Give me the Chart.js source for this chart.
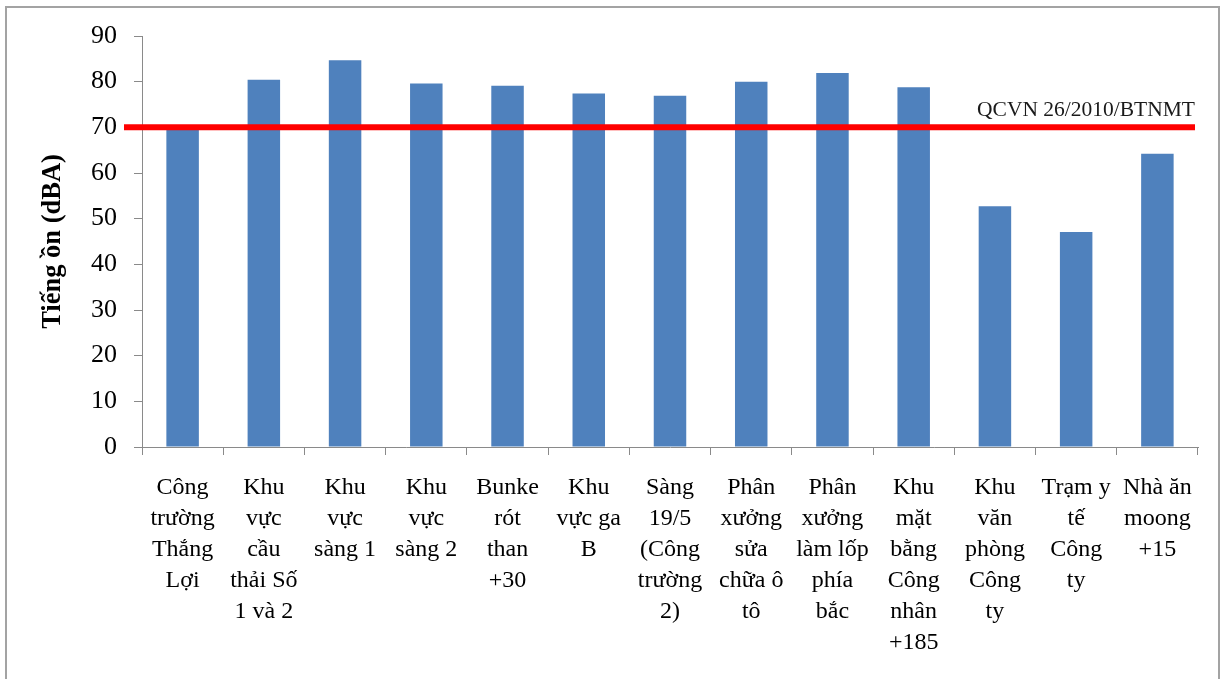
<!DOCTYPE html>
<html>
<head>
<meta charset="utf-8">
<title>Tiếng ồn (dBA)</title>
<script src="https://cdn.jsdelivr.net/npm/chart.js@4/dist/chart.umd.min.js"></script>
<style>
  html, body { margin: 0; padding: 0; background: #ffffff; overflow: hidden; }
  #wrap { position: relative; width: 1227px; height: 679px; }
  #frame {
    position: absolute; left: 5px; top: 6px; width: 1215px; height: 700px;
    border: 2px solid #a3a3a3; box-sizing: border-box; pointer-events: none;
  }
  canvas { position: absolute; left: 0; top: 0; }
</style>
</head>
<body>
<div id="wrap">
  <canvas id="c" width="1227" height="679"></canvas>
  <div id="frame"></div>
</div>
<script>
// Measurement sites (each label split into the lines shown under the axis)
const categories = [
  ["Công", "trường", "Thắng", "Lợi"],
  ["Khu", "vực", "cầu", "thải Số", "1 và 2"],
  ["Khu", "vực", "sàng 1"],
  ["Khu", "vực", "sàng 2"],
  ["Bunke", "rót", "than", "+30"],
  ["Khu", "vực ga", "B"],
  ["Sàng", "19/5", "(Công", "trường", "2)"],
  ["Phân", "xưởng", "sửa", "chữa ô", "tô"],
  ["Phân", "xưởng", "làm lốp", "phía", "bắc"],
  ["Khu", "mặt", "bằng", "Công", "nhân", "+185"],
  ["Khu", "văn", "phòng", "Công", "ty"],
  ["Trạm y", "tế", "Công", "ty"],
  ["Nhà ăn", "moong", "+15"]
];

// Noise level at each site, dBA
const noiseLevels = [69.5, 80.4, 84.7, 79.6, 79.1, 77.4, 76.9, 80.0, 81.9, 78.8, 52.7, 47.1, 64.2];

// Permitted limit and its label
const limitValue = 70;
const limitLabel = "QCVN 26/2010/BTNMT";

// Y axis range and step
const yMin = 0;
const yMax = 90;
const yStep = 10;

const serif = "'Liberation Serif', 'Times New Roman', serif";
const axisGray = "#8a8a8a";

// Horizontal limit line drawn across the plot at the limit value
const limitLinePlugin = {
  id: "limitLine",
  afterDatasetsDraw(chart) {
    const { ctx, chartArea, scales } = chart;
    const y = scales.y.getPixelForValue(limitValue);
    ctx.save();
    ctx.strokeStyle = "#ff0000";
    ctx.lineWidth = 6;
    ctx.beginPath();
    ctx.moveTo(chartArea.left - 18, y);
    ctx.lineTo(chartArea.right - 3, y);
    ctx.stroke();
    ctx.fillStyle = "#1a1a1a";
    ctx.font = "21.5px " + serif;
    ctx.textAlign = "right";
    ctx.textBaseline = "alphabetic";
    ctx.fillText(limitLabel, chartArea.right - 3, y - 11);
    ctx.restore();
  }
};

new Chart(document.getElementById("c"), {
  type: "bar",
  data: {
    labels: categories,
    datasets: [{
      data: noiseLevels,
      backgroundColor: "#4f81bd",
      borderWidth: 0,
      barPercentage: 0.4,
      categoryPercentage: 1.0
    }]
  },
  options: {
    responsive: false,
    animation: false,
    devicePixelRatio: 1,
    layout: { padding: { left: 0, top: 36, right: 29, bottom: 0 } },
    plugins: {
      legend: { display: false },
      tooltip: { enabled: false }
    },
    scales: {
      x: {
        grid: {
          offset: true,
          drawOnChartArea: false,
          drawTicks: true,
          tickLength: 8,
          color: axisGray
        },
        border: { display: true, color: axisGray, width: 1 },
        ticks: {
          autoSkip: false,
          maxRotation: 0,
          minRotation: 0,
          padding: 17,
          color: "#000000",
          font: { family: serif, size: 24, lineHeight: 1.29 }
        },
        afterFit(scale) { scale.height = 232; }
      },
      y: {
        min: yMin,
        max: yMax,
        grid: {
          drawOnChartArea: false,
          drawTicks: true,
          tickLength: 8,
          color: axisGray
        },
        border: { display: true, color: axisGray, width: 1 },
        ticks: {
          stepSize: yStep,
          padding: 17,
          color: "#000000",
          font: { family: serif, size: 26 }
        },
        title: {
          display: true,
          text: "Tiếng ồn (dBA)",
          color: "#000000",
          font: { family: serif, size: 26.5, weight: "bold", lineHeight: 1.2 },
          padding: { top: 37, bottom: 0 }
        },
        afterFit(scale) { scale.width = 142; }
      }
    }
  },
  plugins: [limitLinePlugin]
});
</script>
</body>
</html>
